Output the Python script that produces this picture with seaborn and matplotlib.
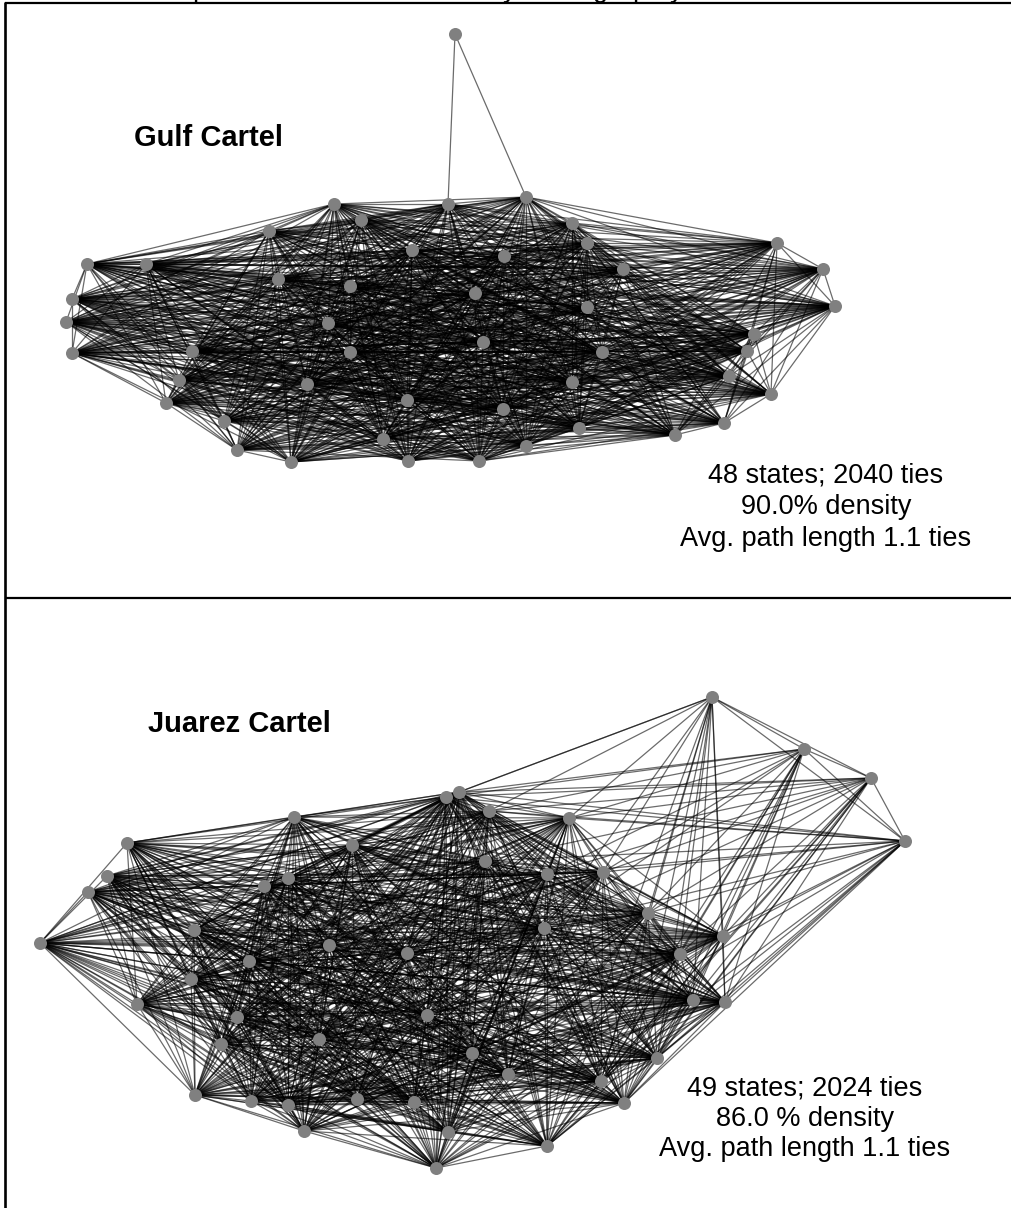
import itertools
import matplotlib
matplotlib.use("Agg")
import matplotlib.pyplot as plt
from matplotlib.collections import LineCollection
import seaborn as sns
import pandas as pd

# Node layouts
gulf_x = [334,448,361,269,412,87,146,278,350,475,72,66,328,483,72,192,350,179,307,407,166,224,383,237,291,408,479,
          526,572,587,504,623,777,823,835,587,602,754,747,572,729,771,503,579,724,675,526,455]
gulf_y = [204,204,220,231,250,264,264,279,286,293,299,322,323,342,353,351,352,380,384,400,403,421,439,450,462,461,461,
          197,223,243,256,269,243,269,306,307,352,334,351,382,376,394,409,428,423,435,446,34]
gulf_pendant_ties = {47: [1, 27]}
gulf_absent = [(5,15),(5,17),(6,7),(6,3),(10,20),(11,20),(14,21),(14,23),(32,31),(32,37),(32,40),(33,31),(33,29),
               (34,31),(34,28),(34,38),(41,46),(41,43),(41,45),(33,45),(44,46),(44,42),(3,30),(0,4),(2,4),(3,8),
               (24,25),(25,26),(24,26),(23,25),(45,46),(43,46),(27,4),(27,30),(28,30),(1,30),(9,8),(13,19),(16,18),
               (12,16),(20,24),(21,18),(17,18),(15,17),(15,21),(7,8),(7,12),(35,36),(35,39),(36,39),(37,38),(38,40),
               (40,44),(5,6),(10,11),(11,14),(30,35),(31,35),(29,31),(28,29),(0,2)]

juarez_x = [446,459,294,127,352,107,288,264,88,194,329,407,40,249,191,137,427,237,319,221,472,195,251,288,357,414,304,448,436,
            489,569,485,547,603,648,544,723,680,693,725,657,601,508,624,547,712,804,871,905]
juarez_y = [797,792,817,843,845,876,878,886,892,930,945,953,943,961,979,1004,1015,1017,1039,1044,1053,1095,1101,1105,1099,1102,1131,1132,1168,
            811,818,861,874,872,913,928,936,954,1000,1002,1058,1081,1074,1103,1146,697,749,778,841]
juarez_outer_ties = {
    45: [1,0,29,30,33,34,35,36,37,38,39,40,41,43,44,46,47,48],
    46: [0,1,29,30,32,33,34,35,36,37,38,39,40,41,43,44,47,48],
    47: [0,1,29,30,31,32,33,34,35,36,37,38,39,40,41,43,44,48],
    48: [0,1,29,30,31,32,33,34,35,36,37,38,39,40,41,42,43,44],
}
juarez_absent = [(2,4),(3,5),(12,9),(12,14),(15,17),(21,22),(22,23),(26,27),(30,34),(33,37),(36,38),(40,41),(43,44),
                 (42,44),(3,8),(5,8),(6,7),(10,11),(16,20),(18,19),(24,25)]

gulf_label = "Gulf Cartel"
juarez_label = "Juarez Cartel"
gulf_stats = "48 states; 2040 ties\n90.0% density\nAvg. path length 1.1 ties"
juarez_stats = "49 states; 2024 ties\n86.0 % density\nAvg. path length 1.1 ties"
clipped_letters = ["p", "y", "g", "p", "y"]
clipped_x = [200, 510, 600, 640, 677]

EDGE = "black"
NODE = "#808080"
FONT = ["Liberation Sans", "DejaVu Sans"]

sns.set_theme(style="white")
plt.rcParams["font.family"] = FONT

fig = plt.figure(figsize=(10.11, 12.08), dpi=100)
ax = fig.add_axes([0, 0, 1, 1])
ax.set_xlim(0, 1011)
ax.set_ylim(1208, 0)
ax.axis("off")


def network(xs, ys, extra, absent):
    """Inner nodes are tied to each other except for listed gaps; outer nodes only to listed partners."""
    outer = set(extra)
    gaps = {tuple(sorted(p)) for p in absent}
    inner = [i for i in range(len(xs)) if i not in outer]
    ties = [p for p in itertools.combinations(inner, 2) if p not in gaps]
    for node, partners in extra.items():
        ties += [(node, q) for q in partners]
    segs = [[(xs[a], ys[a]), (xs[b], ys[b])] for a, b in ties]
    ax.add_collection(LineCollection(segs, colors=EDGE, linewidths=0.9, alpha=0.58, zorder=1))
    sns.scatterplot(data=pd.DataFrame({"x": xs, "y": ys}), x="x", y="y", ax=ax, s=88,
                    color=NODE, edgecolor=NODE, linewidth=0, zorder=3, legend=False)


network(gulf_x, gulf_y, gulf_pendant_ties, gulf_absent)
network(juarez_x, juarez_y, juarez_outer_ties, juarez_absent)
ax.set_xlim(0, 1011)
ax.set_ylim(1208, 0)
ax.axis("off")

# Panel frame
ax.plot([5, 1011], [3, 3], color="black", lw=1.6, zorder=4, solid_capstyle="butt")
ax.plot([5, 1011], [597.5, 597.5], color="black", lw=1.6, zorder=4, solid_capstyle="butt")
ax.plot([5, 5], [2, 1208], color="black", lw=1.9, zorder=4, solid_capstyle="butt")

ax.text(208, 138, gulf_label, fontsize=21, fontweight="bold", ha="center", va="center", color="black")
ax.text(239, 724, juarez_label, fontsize=21, fontweight="bold", ha="center", va="center", color="black")
ax.text(826, 507, gulf_stats, fontsize=19.5, ha="center", va="center", linespacing=1.3, color="black")
ax.text(805, 1119, juarez_stats, fontsize=19.5, ha="center", va="center", linespacing=1.22, color="black")

for letter, x in zip(clipped_letters, clipped_x):
    ax.text(x, -3, letter, fontsize=19.5, ha="center", va="baseline", color="black", clip_on=False)

fig.savefig("out.png", dpi=100, facecolor="white")
